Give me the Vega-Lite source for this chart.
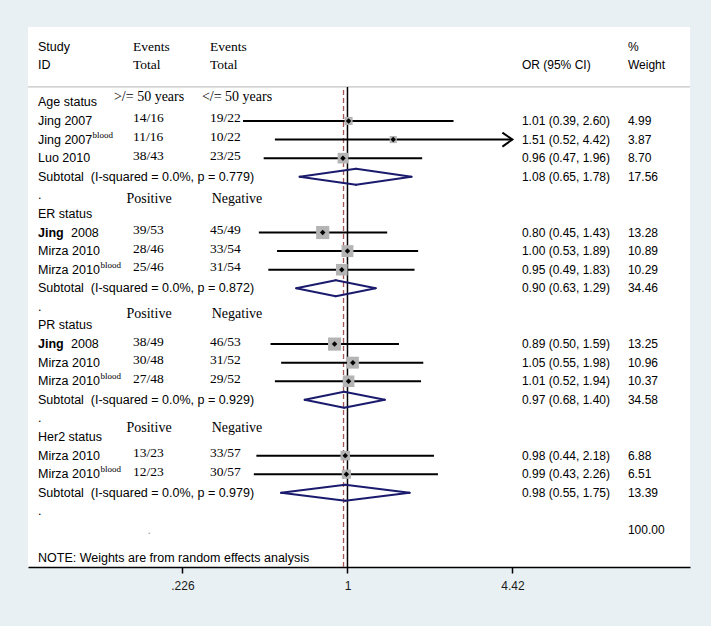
{
  "$schema": "https://vega.github.io/schema/vega-lite/v6.json",
  "width": 662,
  "height": 540,
  "autosize": {"type": "none"},
  "padding": {"left": 28, "top": 27, "right": 21, "bottom": 59},
  "background": "#e8f0f3",
  "config": {
    "font": "Liberation Sans",
    "view": {"stroke": null, "fill": "white"},
    "axisX": {"grid": false, "domainColor": "#000000", "domainWidth": 1.5, "tickColor": "#000000", "tickWidth": 1.5, "tickSize": 6, "labelFont": "Liberation Sans", "labelFontSize": 12, "labelColor": "#1a1a1a", "labelPadding": 7}
  },
  "datasets": {
    "one": [{"id": 1}],
    "header": [
      {"row": 0, "label": "Study", "ev1": "Events", "ev2": "Events", "wt": "%"},
      {"row": 1, "label": "ID", "ev1": "Total", "ev2": "Total", "ci": "OR (95% CI)", "wt": "Weight"}
    ],
    "annot": [
      {"row": 2.71, "a1": ">/= 50 years", "a2": "</= 50 years"},
      {"row": 8.18, "a1": "Positive", "a2": "Negative"},
      {"row": 14.36, "a1": "Positive", "a2": "Negative"},
      {"row": 20.52, "a1": "Positive", "a2": "Negative"}
    ],
    "rows": [
      {"row": 3, "type": "group", "label": "Age status"},
      {"row": 4, "type": "study", "label": "Jing 2007", "ev1": "14/16", "ev2": "19/22", "est": 1.01, "lo": 0.39, "hi": 2.60, "w": 4.99, "ci": "1.01 (0.39, 2.60)", "wt": "4.99"},
      {"row": 5, "type": "study", "label": "Jing 2007", "sup": "blood", "ev1": "11/16", "ev2": "10/22", "est": 1.51, "lo": 0.52, "hi": 4.42, "arrow": true, "w": 3.87, "ci": "1.51 (0.52, 4.42)", "wt": "3.87"},
      {"row": 6, "type": "study", "label": "Luo 2010", "ev1": "38/43", "ev2": "23/25", "est": 0.96, "lo": 0.47, "hi": 1.96, "w": 8.70, "ci": "0.96 (0.47, 1.96)", "wt": "8.70"},
      {"row": 7, "type": "subtotal", "label": "Subtotal\u00a0 (I-squared = 0.0%, p = 0.779)", "est": 1.08, "lo": 0.65, "hi": 1.78, "ci": "1.08 (0.65, 1.78)", "wt": "17.56"},
      {"row": 8, "type": "blank", "label": "."},
      {"row": 9, "type": "group", "label": "ER status"},
      {"row": 10, "type": "study", "label": "Jing", "bold": true, "label2": "2008", "ev1": "39/53", "ev2": "45/49", "est": 0.80, "lo": 0.45, "hi": 1.43, "w": 13.28, "ci": "0.80 (0.45, 1.43)", "wt": "13.28"},
      {"row": 11, "type": "study", "label": "Mirza 2010", "ev1": "28/46", "ev2": "33/54", "est": 1.00, "lo": 0.53, "hi": 1.89, "w": 10.89, "ci": "1.00 (0.53, 1.89)", "wt": "10.89"},
      {"row": 12, "type": "study", "label": "Mirza 2010", "sup": "blood", "ev1": "25/46", "ev2": "31/54", "est": 0.95, "lo": 0.49, "hi": 1.83, "w": 10.29, "ci": "0.95 (0.49, 1.83)", "wt": "10.29"},
      {"row": 13, "type": "subtotal", "label": "Subtotal\u00a0 (I-squared = 0.0%, p = 0.872)", "est": 0.90, "lo": 0.63, "hi": 1.29, "ci": "0.90 (0.63, 1.29)", "wt": "34.46"},
      {"row": 14, "type": "blank", "label": "."},
      {"row": 15, "type": "group", "label": "PR status"},
      {"row": 16, "type": "study", "label": "Jing", "bold": true, "label2": "2008", "ev1": "38/49", "ev2": "46/53", "est": 0.89, "lo": 0.50, "hi": 1.59, "w": 13.25, "ci": "0.89 (0.50, 1.59)", "wt": "13.25"},
      {"row": 17, "type": "study", "label": "Mirza 2010", "ev1": "30/48", "ev2": "31/52", "est": 1.05, "lo": 0.55, "hi": 1.98, "w": 10.96, "ci": "1.05 (0.55, 1.98)", "wt": "10.96"},
      {"row": 18, "type": "study", "label": "Mirza 2010", "sup": "blood", "ev1": "27/48", "ev2": "29/52", "est": 1.01, "lo": 0.52, "hi": 1.94, "w": 10.37, "ci": "1.01 (0.52, 1.94)", "wt": "10.37"},
      {"row": 19, "type": "subtotal", "label": "Subtotal\u00a0 (I-squared = 0.0%, p = 0.929)", "est": 0.97, "lo": 0.68, "hi": 1.40, "ci": "0.97 (0.68, 1.40)", "wt": "34.58"},
      {"row": 20, "type": "blank", "label": "."},
      {"row": 21, "type": "group", "label": "Her2 status"},
      {"row": 22, "type": "study", "label": "Mirza 2010", "ev1": "13/23", "ev2": "33/57", "est": 0.98, "lo": 0.44, "hi": 2.18, "w": 6.88, "ci": "0.98 (0.44, 2.18)", "wt": "6.88"},
      {"row": 23, "type": "study", "label": "Mirza 2010", "sup": "blood", "ev1": "12/23", "ev2": "30/57", "est": 0.99, "lo": 0.43, "hi": 2.26, "w": 6.51, "ci": "0.99 (0.43, 2.26)", "wt": "6.51"},
      {"row": 24, "type": "subtotal", "label": "Subtotal\u00a0 (I-squared = 0.0%, p = 0.979)", "est": 0.98, "lo": 0.55, "hi": 1.75, "ci": "0.98 (0.55, 1.75)", "wt": "13.39"},
      {"row": 25, "type": "blank", "label": "."},
      {"row": 26, "type": "overall", "ev1": ".", "wt": "100.00", "est": 0.965},
      {"row": 27.5, "type": "note", "label": "NOTE: Weights are from random effects analysis"}
    ]
  },
  "layer": [
    {
      "data": {"name": "one"},
      "mark": {"type": "rule", "color": "#c4c4c4", "strokeWidth": 1.2},
      "encoding": {
        "y": {"datum": 2.17, "type": "quantitative", "scale": {"domain": [-1.054, 27.99], "reverse": true, "nice": false, "zero": false}, "axis": null}
      }
    },
    {
      "data": {"name": "one"},
      "mark": {"type": "rule", "color": "#000000", "strokeWidth": 1.5},
      "encoding": {
        "x": {"datum": 1, "type": "quantitative", "scale": {"type": "log", "domain": [0.0562, 21.9], "nice": false}, "axis": {"title": null, "values": [0.226, 1, 4.42], "labelExpr": "datum.value < 1 ? substring(toString(datum.value), 1) : toString(datum.value)"}},
        "y": {"datum": 2.17, "type": "quantitative", "scale": {"domain": [-1.054, 27.99], "reverse": true, "nice": false, "zero": false}, "axis": null},
        "y2": {"datum": 27.99}
      }
    },
    {
      "data": {"name": "rows"},
      "transform": [{"filter": "datum.type == 'overall'"}],
      "mark": {"type": "rule", "color": "#a35555", "strokeWidth": 1.3, "strokeDash": [5, 3]},
      "encoding": {
        "x": {"field": "est", "type": "quantitative", "scale": {"type": "log", "domain": [0.0562, 21.9], "nice": false}, "axis": {"title": null, "values": [0.226, 1, 4.42], "labelExpr": "datum.value < 1 ? substring(toString(datum.value), 1) : toString(datum.value)"}},
        "y": {"datum": 2.33, "type": "quantitative", "scale": {"domain": [-1.054, 27.99], "reverse": true, "nice": false, "zero": false}, "axis": null},
        "y2": {"datum": 27.99}
      }
    },
    {
      "data": {"name": "rows"},
      "transform": [{"filter": "datum.type == 'study'"}],
      "mark": {"type": "rule", "color": "#000000", "strokeWidth": 2},
      "encoding": {
        "x": {"field": "lo", "type": "quantitative", "scale": {"type": "log", "domain": [0.0562, 21.9], "nice": false}, "axis": {"title": null, "values": [0.226, 1, 4.42], "labelExpr": "datum.value < 1 ? substring(toString(datum.value), 1) : toString(datum.value)"}},
        "x2": {"field": "hi"},
        "y": {"field": "row", "type": "quantitative", "scale": {"domain": [-1.054, 27.99], "reverse": true, "nice": false, "zero": false}, "axis": null}
      }
    },
    {
      "data": {"name": "rows"},
      "transform": [{"filter": "datum.arrow == true"}],
      "mark": {"type": "point", "shape": "M-2,-1.4L0,0L-2,1.4", "filled": false, "stroke": "#000000", "strokeWidth": 2, "size": 100, "opacity": 1},
      "encoding": {
        "x": {"field": "hi", "type": "quantitative", "scale": {"type": "log", "domain": [0.0562, 21.9], "nice": false}, "axis": {"title": null, "values": [0.226, 1, 4.42], "labelExpr": "datum.value < 1 ? substring(toString(datum.value), 1) : toString(datum.value)"}},
        "y": {"field": "row", "type": "quantitative", "scale": {"domain": [-1.054, 27.99], "reverse": true, "nice": false, "zero": false}, "axis": null}
      }
    },
    {
      "data": {"name": "rows"},
      "transform": [{"filter": "datum.type == 'study'"}],
      "mark": {"type": "point", "shape": "square", "filled": true, "color": "#b4b4b4", "opacity": 1},
      "encoding": {
        "x": {"field": "est", "type": "quantitative", "scale": {"type": "log", "domain": [0.0562, 21.9], "nice": false}, "axis": {"title": null, "values": [0.226, 1, 4.42], "labelExpr": "datum.value < 1 ? substring(toString(datum.value), 1) : toString(datum.value)"}},
        "y": {"field": "row", "type": "quantitative", "scale": {"domain": [-1.054, 27.99], "reverse": true, "nice": false, "zero": false}, "axis": null},
        "size": {"field": "w", "type": "quantitative", "scale": {"type": "linear", "domain": [0, 14], "range": [0, 182], "zero": true}, "legend": null}
      }
    },
    {
      "data": {"name": "rows"},
      "transform": [{"filter": "datum.type == 'study'"}],
      "mark": {"type": "point", "shape": "diamond", "filled": true, "color": "#000000", "size": 30, "opacity": 1},
      "encoding": {
        "x": {"field": "est", "type": "quantitative", "scale": {"type": "log", "domain": [0.0562, 21.9], "nice": false}, "axis": {"title": null, "values": [0.226, 1, 4.42], "labelExpr": "datum.value < 1 ? substring(toString(datum.value), 1) : toString(datum.value)"}},
        "y": {"field": "row", "type": "quantitative", "scale": {"domain": [-1.054, 27.99], "reverse": true, "nice": false, "zero": false}, "axis": null}
      }
    },
    {
      "data": {"name": "rows"},
      "transform": [{"filter": "datum.type == 'subtotal'"}],
      "mark": {"type": "rule", "color": "#1b1b6e", "strokeWidth": 2, "strokeCap": "round", "y2Offset": -8},
      "encoding": {
        "x": {"field": "lo", "type": "quantitative", "scale": {"type": "log", "domain": [0.0562, 21.9], "nice": false}, "axis": {"title": null, "values": [0.226, 1, 4.42], "labelExpr": "datum.value < 1 ? substring(toString(datum.value), 1) : toString(datum.value)"}},
        "x2": {"field": "est"},
        "y": {"field": "row", "type": "quantitative", "scale": {"domain": [-1.054, 27.99], "reverse": true, "nice": false, "zero": false}, "axis": null},
        "y2": {"field": "row"}
      }
    },
    {
      "data": {"name": "rows"},
      "transform": [{"filter": "datum.type == 'subtotal'"}],
      "mark": {"type": "rule", "color": "#1b1b6e", "strokeWidth": 2, "strokeCap": "round", "y2Offset": 8},
      "encoding": {
        "x": {"field": "lo", "type": "quantitative", "scale": {"type": "log", "domain": [0.0562, 21.9], "nice": false}, "axis": {"title": null, "values": [0.226, 1, 4.42], "labelExpr": "datum.value < 1 ? substring(toString(datum.value), 1) : toString(datum.value)"}},
        "x2": {"field": "est"},
        "y": {"field": "row", "type": "quantitative", "scale": {"domain": [-1.054, 27.99], "reverse": true, "nice": false, "zero": false}, "axis": null},
        "y2": {"field": "row"}
      }
    },
    {
      "data": {"name": "rows"},
      "transform": [{"filter": "datum.type == 'subtotal'"}],
      "mark": {"type": "rule", "color": "#1b1b6e", "strokeWidth": 2, "strokeCap": "round", "yOffset": -8},
      "encoding": {
        "x": {"field": "est", "type": "quantitative", "scale": {"type": "log", "domain": [0.0562, 21.9], "nice": false}, "axis": {"title": null, "values": [0.226, 1, 4.42], "labelExpr": "datum.value < 1 ? substring(toString(datum.value), 1) : toString(datum.value)"}},
        "x2": {"field": "hi"},
        "y": {"field": "row", "type": "quantitative", "scale": {"domain": [-1.054, 27.99], "reverse": true, "nice": false, "zero": false}, "axis": null},
        "y2": {"field": "row"}
      }
    },
    {
      "data": {"name": "rows"},
      "transform": [{"filter": "datum.type == 'subtotal'"}],
      "mark": {"type": "rule", "color": "#1b1b6e", "strokeWidth": 2, "strokeCap": "round", "yOffset": 8},
      "encoding": {
        "x": {"field": "est", "type": "quantitative", "scale": {"type": "log", "domain": [0.0562, 21.9], "nice": false}, "axis": {"title": null, "values": [0.226, 1, 4.42], "labelExpr": "datum.value < 1 ? substring(toString(datum.value), 1) : toString(datum.value)"}},
        "x2": {"field": "hi"},
        "y": {"field": "row", "type": "quantitative", "scale": {"domain": [-1.054, 27.99], "reverse": true, "nice": false, "zero": false}, "axis": null},
        "y2": {"field": "row"}
      }
    },
    {
      "data": {"name": "header"},
      "mark": {"type": "text", "align": "left", "baseline": "middle", "font": "Liberation Sans", "fontSize": 12.5, "color": "#000000"},
      "encoding": {
        "x": {"datum": 0.0615, "type": "quantitative", "scale": {"type": "log", "domain": [0.0562, 21.9], "nice": false}, "axis": {"title": null, "values": [0.226, 1, 4.42], "labelExpr": "datum.value < 1 ? substring(toString(datum.value), 1) : toString(datum.value)"}},
        "y": {"field": "row", "type": "quantitative", "scale": {"domain": [-1.054, 27.99], "reverse": true, "nice": false, "zero": false}, "axis": null},
        "text": {"field": "label", "type": "nominal"}
      }
    },
    {
      "data": {"name": "header"},
      "mark": {"type": "text", "align": "left", "baseline": "middle", "font": "Liberation Serif", "fontSize": 13.5, "color": "#000000"},
      "encoding": {
        "x": {"datum": 0.1448, "type": "quantitative", "scale": {"type": "log", "domain": [0.0562, 21.9], "nice": false}, "axis": {"title": null, "values": [0.226, 1, 4.42], "labelExpr": "datum.value < 1 ? substring(toString(datum.value), 1) : toString(datum.value)"}},
        "y": {"field": "row", "type": "quantitative", "scale": {"domain": [-1.054, 27.99], "reverse": true, "nice": false, "zero": false}, "axis": null},
        "text": {"field": "ev1", "type": "nominal"}
      }
    },
    {
      "data": {"name": "header"},
      "mark": {"type": "text", "align": "left", "baseline": "middle", "font": "Liberation Serif", "fontSize": 13.5, "color": "#000000"},
      "encoding": {
        "x": {"datum": 0.2898, "type": "quantitative", "scale": {"type": "log", "domain": [0.0562, 21.9], "nice": false}, "axis": {"title": null, "values": [0.226, 1, 4.42], "labelExpr": "datum.value < 1 ? substring(toString(datum.value), 1) : toString(datum.value)"}},
        "y": {"field": "row", "type": "quantitative", "scale": {"domain": [-1.054, 27.99], "reverse": true, "nice": false, "zero": false}, "axis": null},
        "text": {"field": "ev2", "type": "nominal"}
      }
    },
    {
      "data": {"name": "header"},
      "transform": [{"filter": "isValid(datum.ci)"}],
      "mark": {"type": "text", "align": "left", "baseline": "middle", "font": "Liberation Sans", "fontSize": 12, "color": "#000000"},
      "encoding": {
        "x": {"datum": 4.817, "type": "quantitative", "scale": {"type": "log", "domain": [0.0562, 21.9], "nice": false}, "axis": {"title": null, "values": [0.226, 1, 4.42], "labelExpr": "datum.value < 1 ? substring(toString(datum.value), 1) : toString(datum.value)"}},
        "y": {"field": "row", "type": "quantitative", "scale": {"domain": [-1.054, 27.99], "reverse": true, "nice": false, "zero": false}, "axis": null},
        "text": {"field": "ci", "type": "nominal"}
      }
    },
    {
      "data": {"name": "header"},
      "mark": {"type": "text", "align": "left", "baseline": "middle", "font": "Liberation Sans", "fontSize": 12, "color": "#000000"},
      "encoding": {
        "x": {"datum": 12.52, "type": "quantitative", "scale": {"type": "log", "domain": [0.0562, 21.9], "nice": false}, "axis": {"title": null, "values": [0.226, 1, 4.42], "labelExpr": "datum.value < 1 ? substring(toString(datum.value), 1) : toString(datum.value)"}},
        "y": {"field": "row", "type": "quantitative", "scale": {"domain": [-1.054, 27.99], "reverse": true, "nice": false, "zero": false}, "axis": null},
        "text": {"field": "wt", "type": "nominal"}
      }
    },
    {
      "data": {"name": "annot"},
      "mark": {"type": "text", "align": "center", "baseline": "middle", "font": "Liberation Serif", "fontSize": 14, "color": "#000000"},
      "encoding": {
        "x": {"datum": 0.1673, "type": "quantitative", "scale": {"type": "log", "domain": [0.0562, 21.9], "nice": false}, "axis": {"title": null, "values": [0.226, 1, 4.42], "labelExpr": "datum.value < 1 ? substring(toString(datum.value), 1) : toString(datum.value)"}},
        "y": {"field": "row", "type": "quantitative", "scale": {"domain": [-1.054, 27.99], "reverse": true, "nice": false, "zero": false}, "axis": null},
        "text": {"field": "a1", "type": "nominal"}
      }
    },
    {
      "data": {"name": "annot"},
      "mark": {"type": "text", "align": "center", "baseline": "middle", "font": "Liberation Serif", "fontSize": 14, "color": "#000000"},
      "encoding": {
        "x": {"datum": 0.3695, "type": "quantitative", "scale": {"type": "log", "domain": [0.0562, 21.9], "nice": false}, "axis": {"title": null, "values": [0.226, 1, 4.42], "labelExpr": "datum.value < 1 ? substring(toString(datum.value), 1) : toString(datum.value)"}},
        "y": {"field": "row", "type": "quantitative", "scale": {"domain": [-1.054, 27.99], "reverse": true, "nice": false, "zero": false}, "axis": null},
        "text": {"field": "a2", "type": "nominal"}
      }
    },
    {
      "data": {"name": "rows"},
      "transform": [{"filter": "isValid(datum.label) && datum.bold != true"}],
      "mark": {"type": "text", "align": "left", "baseline": "middle", "font": "Liberation Sans", "fontSize": 12.5, "color": "#000000"},
      "encoding": {
        "x": {"datum": 0.0615, "type": "quantitative", "scale": {"type": "log", "domain": [0.0562, 21.9], "nice": false}, "axis": {"title": null, "values": [0.226, 1, 4.42], "labelExpr": "datum.value < 1 ? substring(toString(datum.value), 1) : toString(datum.value)"}},
        "y": {"field": "row", "type": "quantitative", "scale": {"domain": [-1.054, 27.99], "reverse": true, "nice": false, "zero": false}, "axis": null},
        "text": {"field": "label", "type": "nominal"}
      }
    },
    {
      "data": {"name": "rows"},
      "transform": [{"filter": "datum.bold == true"}],
      "mark": {"type": "text", "align": "left", "baseline": "middle", "font": "Liberation Sans", "fontSize": 12.5, "fontWeight": "bold", "color": "#000000"},
      "encoding": {
        "x": {"datum": 0.0615, "type": "quantitative", "scale": {"type": "log", "domain": [0.0562, 21.9], "nice": false}, "axis": {"title": null, "values": [0.226, 1, 4.42], "labelExpr": "datum.value < 1 ? substring(toString(datum.value), 1) : toString(datum.value)"}},
        "y": {"field": "row", "type": "quantitative", "scale": {"domain": [-1.054, 27.99], "reverse": true, "nice": false, "zero": false}, "axis": null},
        "text": {"field": "label", "type": "nominal"}
      }
    },
    {
      "data": {"name": "rows"},
      "transform": [{"filter": "isValid(datum.label2)"}],
      "mark": {"type": "text", "align": "left", "baseline": "middle", "font": "Liberation Sans", "fontSize": 12.5, "color": "#000000", "dx": 33},
      "encoding": {
        "x": {"datum": 0.0615, "type": "quantitative", "scale": {"type": "log", "domain": [0.0562, 21.9], "nice": false}, "axis": {"title": null, "values": [0.226, 1, 4.42], "labelExpr": "datum.value < 1 ? substring(toString(datum.value), 1) : toString(datum.value)"}},
        "y": {"field": "row", "type": "quantitative", "scale": {"domain": [-1.054, 27.99], "reverse": true, "nice": false, "zero": false}, "axis": null},
        "text": {"field": "label2", "type": "nominal"}
      }
    },
    {
      "data": {"name": "rows"},
      "transform": [{"filter": "isValid(datum.sup) && datum.label == 'Jing 2007'"}],
      "mark": {"type": "text", "align": "left", "baseline": "middle", "font": "Liberation Serif", "fontSize": 9, "color": "#000000", "dx": 54.5, "dy": -5},
      "encoding": {
        "x": {"datum": 0.0615, "type": "quantitative", "scale": {"type": "log", "domain": [0.0562, 21.9], "nice": false}, "axis": {"title": null, "values": [0.226, 1, 4.42], "labelExpr": "datum.value < 1 ? substring(toString(datum.value), 1) : toString(datum.value)"}},
        "y": {"field": "row", "type": "quantitative", "scale": {"domain": [-1.054, 27.99], "reverse": true, "nice": false, "zero": false}, "axis": null},
        "text": {"field": "sup", "type": "nominal"}
      }
    },
    {
      "data": {"name": "rows"},
      "transform": [{"filter": "isValid(datum.sup) && datum.label == 'Mirza 2010'"}],
      "mark": {"type": "text", "align": "left", "baseline": "middle", "font": "Liberation Serif", "fontSize": 9, "color": "#000000", "dx": 62.5, "dy": -5},
      "encoding": {
        "x": {"datum": 0.0615, "type": "quantitative", "scale": {"type": "log", "domain": [0.0562, 21.9], "nice": false}, "axis": {"title": null, "values": [0.226, 1, 4.42], "labelExpr": "datum.value < 1 ? substring(toString(datum.value), 1) : toString(datum.value)"}},
        "y": {"field": "row", "type": "quantitative", "scale": {"domain": [-1.054, 27.99], "reverse": true, "nice": false, "zero": false}, "axis": null},
        "text": {"field": "sup", "type": "nominal"}
      }
    },
    {
      "data": {"name": "rows"},
      "transform": [{"filter": "datum.type == 'study'"}],
      "mark": {"type": "text", "align": "left", "baseline": "middle", "font": "Liberation Serif", "fontSize": 13.5, "color": "#000000", "dy": -2.5},
      "encoding": {
        "x": {"datum": 0.1448, "type": "quantitative", "scale": {"type": "log", "domain": [0.0562, 21.9], "nice": false}, "axis": {"title": null, "values": [0.226, 1, 4.42], "labelExpr": "datum.value < 1 ? substring(toString(datum.value), 1) : toString(datum.value)"}},
        "y": {"field": "row", "type": "quantitative", "scale": {"domain": [-1.054, 27.99], "reverse": true, "nice": false, "zero": false}, "axis": null},
        "text": {"field": "ev1", "type": "nominal"}
      }
    },
    {
      "data": {"name": "rows"},
      "transform": [{"filter": "datum.type == 'overall'"}],
      "mark": {"type": "text", "align": "center", "baseline": "middle", "font": "Liberation Sans", "fontSize": 12, "color": "#9a9a9a"},
      "encoding": {
        "x": {"datum": 0.1673, "type": "quantitative", "scale": {"type": "log", "domain": [0.0562, 21.9], "nice": false}, "axis": {"title": null, "values": [0.226, 1, 4.42], "labelExpr": "datum.value < 1 ? substring(toString(datum.value), 1) : toString(datum.value)"}},
        "y": {"field": "row", "type": "quantitative", "scale": {"domain": [-1.054, 27.99], "reverse": true, "nice": false, "zero": false}, "axis": null},
        "text": {"field": "ev1", "type": "nominal"}
      }
    },
    {
      "data": {"name": "rows"},
      "transform": [{"filter": "datum.type == 'study'"}],
      "mark": {"type": "text", "align": "left", "baseline": "middle", "font": "Liberation Serif", "fontSize": 13.5, "color": "#000000", "dy": -2.5},
      "encoding": {
        "x": {"datum": 0.2898, "type": "quantitative", "scale": {"type": "log", "domain": [0.0562, 21.9], "nice": false}, "axis": {"title": null, "values": [0.226, 1, 4.42], "labelExpr": "datum.value < 1 ? substring(toString(datum.value), 1) : toString(datum.value)"}},
        "y": {"field": "row", "type": "quantitative", "scale": {"domain": [-1.054, 27.99], "reverse": true, "nice": false, "zero": false}, "axis": null},
        "text": {"field": "ev2", "type": "nominal"}
      }
    },
    {
      "data": {"name": "rows"},
      "transform": [{"filter": "isValid(datum.ci)"}],
      "mark": {"type": "text", "align": "left", "baseline": "middle", "font": "Liberation Sans", "fontSize": 12, "color": "#000000"},
      "encoding": {
        "x": {"datum": 4.817, "type": "quantitative", "scale": {"type": "log", "domain": [0.0562, 21.9], "nice": false}, "axis": {"title": null, "values": [0.226, 1, 4.42], "labelExpr": "datum.value < 1 ? substring(toString(datum.value), 1) : toString(datum.value)"}},
        "y": {"field": "row", "type": "quantitative", "scale": {"domain": [-1.054, 27.99], "reverse": true, "nice": false, "zero": false}, "axis": null},
        "text": {"field": "ci", "type": "nominal"}
      }
    },
    {
      "data": {"name": "rows"},
      "transform": [{"filter": "isValid(datum.wt)"}],
      "mark": {"type": "text", "align": "left", "baseline": "middle", "font": "Liberation Sans", "fontSize": 12, "color": "#000000"},
      "encoding": {
        "x": {"datum": 12.52, "type": "quantitative", "scale": {"type": "log", "domain": [0.0562, 21.9], "nice": false}, "axis": {"title": null, "values": [0.226, 1, 4.42], "labelExpr": "datum.value < 1 ? substring(toString(datum.value), 1) : toString(datum.value)"}},
        "y": {"field": "row", "type": "quantitative", "scale": {"domain": [-1.054, 27.99], "reverse": true, "nice": false, "zero": false}, "axis": null},
        "text": {"field": "wt", "type": "nominal"}
      }
    }
  ]
}
